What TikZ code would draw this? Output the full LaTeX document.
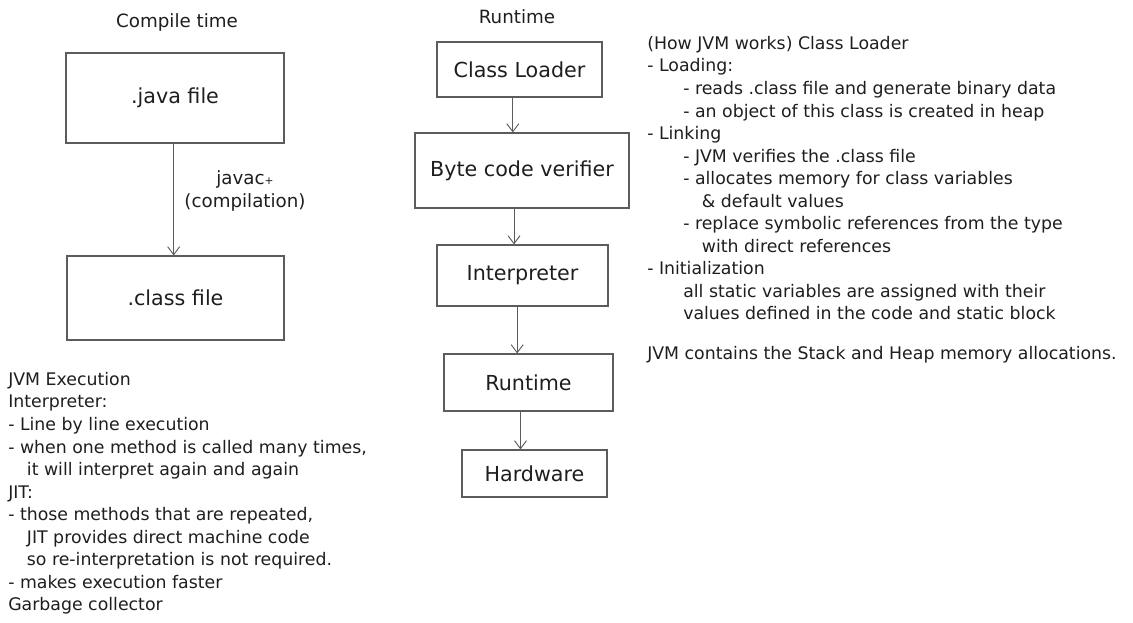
\documentclass[tikz,border=0pt]{standalone}
\usepackage{fontspec}
\setmainfont{DejaVu Sans}
\usetikzlibrary{arrows.meta}
\definecolor{inkgray}{HTML}{1E1E1E}
\definecolor{linegray}{HTML}{5C5C5C}
\tikzset{
	stepbox/.style={draw=linegray, line width=0.8pt, inner sep=0pt, text=inkgray, font=\fontsize{15.5}{18}\selectfont},
	flow/.style={draw=linegray, line width=0.7pt, -{Straight Barb[length=6pt,width=9pt]}},
	notes/.style={anchor=north west, align=left, inner sep=0pt, text=inkgray, font=\fontsize{13}{16.9}\selectfont},
	heading/.style={text=inkgray, font=\fontsize{13.7}{16.9}\selectfont}
}
\newcommand{\ind}[1]{\hspace*{#1pt}}
\begin{document}
\begin{tikzpicture}[x=0.75pt,y=-0.75pt]
		\useasboundingbox (0,0) rectangle (1133,623);
		
		% compile time
		\node[heading] (ctitle) at (177,22) {Compile time};
		\node[stepbox, minimum width=163.5pt, minimum height=67.5pt] (java) at (175,98) {.java file};
		\node[stepbox, minimum width=162.75pt, minimum height=63pt] (class) at (175.5,298) {.class file};
		\draw[flow] ([xshift=-1pt]java.south) -- ([xshift=-1pt]java.south |- class.north);
		\node[heading, align=center] (javac) at (245,191) {javac{\footnotesize +}\\(compilation)};
		
		% runtime
		\node[heading] (rtitle) at (517,17) {Runtime};
		\node[stepbox, minimum width=123.75pt, minimum height=41.25pt] (loader) at (519.5,69.5) {Class Loader};
		\node[stepbox, minimum width=160.5pt, minimum height=56.25pt] (verifier) at (522,170.5) {Byte code verifier};
		\node[stepbox, minimum width=128.25pt, minimum height=45.75pt] (interp) at (522.5,275.5) {Interpreter};
		\node[stepbox, minimum width=126.75pt, minimum height=42.75pt] (runtime) at (528.5,382.5) {Runtime};
		\node[stepbox, minimum width=108.75pt, minimum height=35.25pt] (hardware) at (534.5,473.5) {Hardware};
		\foreach \a/\b/\s in {loader/verifier/-5, verifier/interp/-6, interp/runtime/-4, runtime/hardware/-6}{
			\draw[flow] ([xshift=\s pt]\a.south) -- ([xshift=\s pt]\a.south |- \b.north);
		}
		
		% notes
		\node[notes] (execnotes) at (8,372) {JVM Execution\\
			Interpreter:\\
			- Line by line execution\\
			- when one method is called many times,\\
			\ind{14}it will interpret again and again\\
			JIT:\\
			- those methods that are repeated,\\
			\ind{14}JIT provides direct machine code\\
			\ind{14}so re-interpretation is not required.\\
			- makes execution faster\\
			Garbage collector};
		\node[notes] (loadnotes) at (647,36) {(How JVM works) Class Loader\\
			- Loading:\\
			\ind{27}- reads .class file and generate binary data\\
			\ind{27}- an object of this class is created in heap\\
			- Linking\\
			\ind{27}- JVM verifies the .class file\\
			\ind{27}- allocates memory for class variables\\
			\ind{41}\& default values\\
			\ind{27}- replace symbolic references from the type\\
			\ind{41}with direct references\\
			- Initialization\\
			\ind{27}all static variables are assigned with their\\
			\ind{27}values defined in the code and static block};
		\node[notes] (heapnote) at (647,346) {JVM contains the Stack and Heap memory allocations.};
		\end{tikzpicture}
\end{document}
